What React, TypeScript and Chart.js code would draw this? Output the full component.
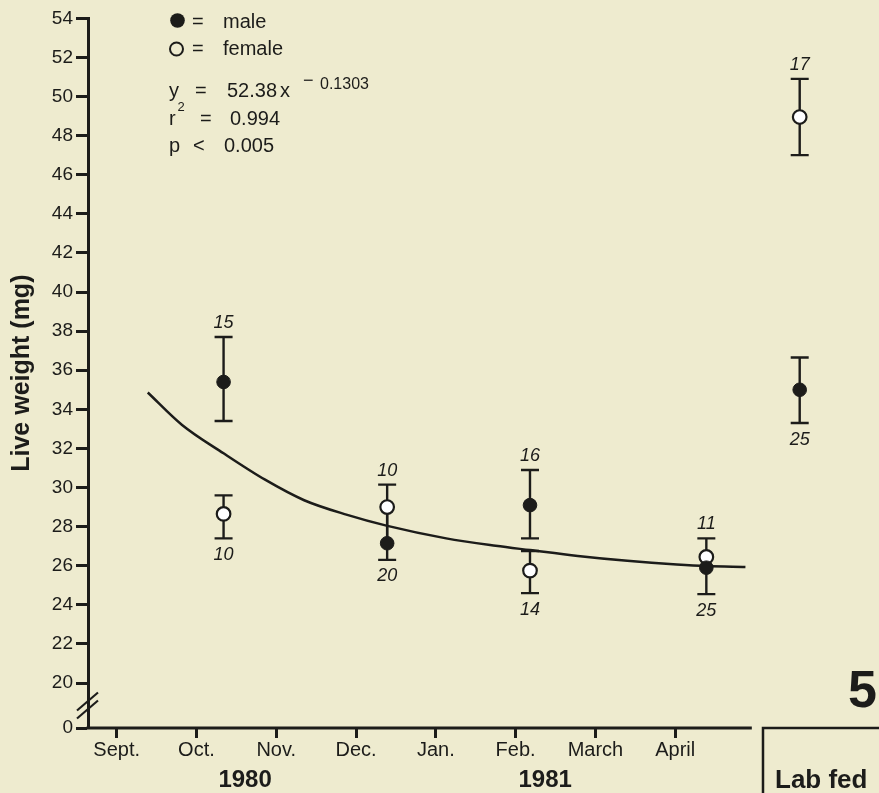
import React, { useEffect, useRef } from "react";
import { Chart, registerables } from "chart.js";

Chart.register(...registerables);

// ---------------- data ----------------
// sampling occasions; x = months since 1 Sept 1980 (Lab fed group placed at the right)
const groups = ["Oct. 1980", "Dec. 1980", "Feb. 1981", "April 1981", "Lab fed"];
const sampleMonth = [1.34, 3.39, 5.18, 7.39, 8.56];

const maleMean = [35.4, 27.15, 29.1, 25.9, 35.0];
const maleHigh = [37.7, 28.8, 30.9, 26.5, 36.65];
const maleLow = [33.4, 26.3, 27.4, 24.55, 33.3];
const maleN = [15, 20, 16, 25, 25];

const femaleMean = [28.65, 29.0, 25.75, 26.45, 48.95];
const femaleHigh = [29.6, 30.15, 26.75, 27.4, 50.9];
const femaleLow = [27.4, 27.3, 24.6, 25.9, 47.0];
const femaleN = [10, 10, 14, 11, 17];

// fitted curve y = 52.38 x^-0.1303
const curveMonth = [0.39, 0.82, 1.34, 1.86, 2.35, 2.89, 3.38, 4.13, 4.75, 5.18, 5.78, 6.4, 7.02, 7.39, 7.88];
const curveWeight = [34.86, 33.2, 31.75, 30.4, 29.35, 28.6, 28.05, 27.4, 27.02, 26.8, 26.5, 26.25, 26.06, 25.98, 25.94];

const monthTicks = [0, 1, 2, 3, 4, 5, 6, 7];
const monthLabels = ["Sept.", "Oct.", "Nov.", "Dec.", "Jan.", "Feb.", "March", "April"];
const yearLabels = ["1980", "1981"];
const yearLabelMonth = [1.61, 5.37];
const yTicks = [20, 22, 24, 26, 28, 30, 32, 34, 36, 38, 40, 42, 44, 46, 48, 50, 52, 54];
const yBreakLabel = "0";

const legendMale = "male";
const legendFemale = "female";
const eqCoef = "52.38";
const eqExp = "0.1303";
const r2Value = "0.994";
const pValue = "0.005";
const labFedLabel = "Lab fed";
const figureNumber = "5";

// ---------------- layout / style ----------------
const W = 879;
const H = 793;
const X_MIN = -0.359;
const X_MAX = 9.441;
const AXIS_END = 7.96;
const LAB_BOX = 8.1;
const Y_MIN = 17.7;
const Y_MAX = 54;
const BREAK_AT = 18.85;
const POINT_R = 6.8;

const INK = "#1c1c1a";
const BG = "#eeebcf";
const FONT = '"Liberation Sans", Arial, Helvetica, sans-serif';

const figurePlugin = {
  id: "figurePlugin",
  beforeDraw(chart: any) {
    const { ctx, width, height } = chart;
    ctx.save();
    ctx.fillStyle = BG;
    ctx.fillRect(0, 0, width, height);
    ctx.restore();
  },
  beforeDatasetsDraw(chart: any) {
    const { ctx } = chart;
    const x = chart.scales.x;
    const y = chart.scales.y;
    ctx.save();
    ctx.strokeStyle = INK;
    ctx.lineWidth = 2.4;
    const hidden = (i: number, py: number) =>
      Math.abs(py - y.getPixelForValue(maleMean[i])) < POINT_R + 1 ||
      Math.abs(py - y.getPixelForValue(femaleMean[i])) < POINT_R + 1;
    const bars = (lo: number[], hi: number[]) => {
      for (let i = 0; i < sampleMonth.length; i++) {
        const px = x.getPixelForValue(sampleMonth[i]);
        const y1 = y.getPixelForValue(lo[i]);
        const y2 = y.getPixelForValue(hi[i]);
        ctx.beginPath();
        ctx.moveTo(px, y1);
        ctx.lineTo(px, y2);
        for (const e of [y1, y2]) {
          if (!hidden(i, e)) {
            ctx.moveTo(px - 9, e);
            ctx.lineTo(px + 9, e);
          }
        }
        ctx.stroke();
      }
    };
    bars(maleLow, maleHigh);
    bars(femaleLow, femaleHigh);
    ctx.restore();
  },
  afterDatasetsDraw(chart: any) {
    const { ctx } = chart;
    const x = chart.scales.x;
    const y = chart.scales.y;
    ctx.save();
    ctx.fillStyle = INK;
    ctx.font = `italic 18px ${FONT}`;
    ctx.textAlign = "center";
    ctx.textBaseline = "alphabetic";
    for (let i = 0; i < sampleMonth.length; i++) {
      const px = x.getPixelForValue(sampleMonth[i]);
      const maleAbove = maleMean[i] > femaleMean[i];
      if (maleAbove) {
        ctx.fillText(String(maleN[i]), px, y.getPixelForValue(maleHigh[i]) - 9);
        ctx.fillText(String(femaleN[i]), px, y.getPixelForValue(femaleLow[i]) + 21.5);
      } else {
        ctx.fillText(String(maleN[i]), px, y.getPixelForValue(maleLow[i]) + 21.5);
        ctx.fillText(String(femaleN[i]), px, y.getPixelForValue(femaleHigh[i]) - 9);
      }
    }
    ctx.restore();
  },
  afterDraw(chart: any) {
    const { ctx, chartArea } = chart;
    const x = chart.scales.x;
    const y = chart.scales.y;
    ctx.save();
    ctx.strokeStyle = INK;
    ctx.fillStyle = INK;

    // x axis line (time axis only)
    ctx.lineWidth = 3;
    ctx.beginPath();
    ctx.moveTo(chartArea.left - 1.5, chartArea.bottom);
    ctx.lineTo(x.getPixelForValue(AXIS_END), chartArea.bottom);
    ctx.stroke();

    // Lab fed box
    const bx = x.getPixelForValue(LAB_BOX);
    ctx.lineWidth = 2.5;
    ctx.beginPath();
    ctx.moveTo(bx, H);
    ctx.lineTo(bx, chartArea.bottom);
    ctx.lineTo(W, chartArea.bottom);
    ctx.stroke();

    // axis break marks
    const by = y.getPixelForValue(BREAK_AT);
    const ax = chartArea.left;
    ctx.lineWidth = 2.2;
    for (const off of [-4, 4]) {
      ctx.beginPath();
      ctx.moveTo(ax - 11, by + off + 9);
      ctx.lineTo(ax + 10, by + off - 9);
      ctx.stroke();
    }

    // legend
    ctx.textAlign = "left";
    ctx.textBaseline = "alphabetic";
    ctx.font = `20px ${FONT}`;
    ctx.beginPath();
    ctx.arc(177.5, 20.5, 7.3, 0, Math.PI * 2);
    ctx.fill();
    ctx.fillText("=", 192, 27.5);
    ctx.fillText(legendMale, 223, 27.5);
    ctx.lineWidth = 2;
    ctx.beginPath();
    ctx.arc(176.5, 49, 6.5, 0, Math.PI * 2);
    ctx.stroke();
    ctx.fillText("=", 192, 55);
    ctx.fillText(legendFemale, 223, 55);

    // equation
    ctx.fillText("y", 169, 96.7);
    ctx.fillText("=", 195, 96.7);
    ctx.fillText(eqCoef, 227, 96.7);
    ctx.fillText("x", 280, 96.7);
    ctx.font = `18px ${FONT}`;
    ctx.fillText("\u2212", 303, 85.5);
    ctx.font = `16px ${FONT}`;
    ctx.fillText(eqExp, 320, 89.3);
    ctx.font = `20px ${FONT}`;
    ctx.fillText("r", 169, 125);
    ctx.font = `13px ${FONT}`;
    ctx.fillText("2", 177.5, 111);
    ctx.font = `20px ${FONT}`;
    ctx.fillText("=", 200, 125);
    ctx.fillText(r2Value, 230, 125);
    ctx.fillText("p", 169, 151.7);
    ctx.fillText("<", 193, 151.7);
    ctx.fillText(pValue, 224, 151.7);

    // years
    ctx.font = `bold 24px ${FONT}`;
    ctx.textAlign = "center";
    yearLabels.forEach((t, i) => {
      ctx.fillText(t, x.getPixelForValue(yearLabelMonth[i]), 786.5);
    });

    // Lab fed label and figure number
    ctx.textAlign = "left";
    ctx.font = `bold 26px ${FONT}`;
    ctx.fillText(labFedLabel, bx + 12, 788);
    ctx.font = `bold 52px ${FONT}`;
    ctx.fillText(figureNumber, 848, 707);

    ctx.restore();
  },
};

export default function App() {
  const ref = useRef<HTMLCanvasElement | null>(null);

  useEffect(() => {
    if (!ref.current) return;
    const chart = new Chart(ref.current, {
      type: "scatter",
      data: {
        datasets: [
          {
            label: "male",
            data: sampleMonth.map((m, i) => ({ x: m, y: maleMean[i] })),
            pointRadius: POINT_R,
            pointBackgroundColor: INK,
            pointBorderColor: INK,
            pointBorderWidth: 1,
            showLine: false,
            order: 0,
          },
          {
            label: "female",
            data: sampleMonth.map((m, i) => ({ x: m, y: femaleMean[i] })),
            pointRadius: POINT_R,
            pointBackgroundColor: "#ffffff",
            pointBorderColor: INK,
            pointBorderWidth: 2.2,
            showLine: false,
            order: 1,
          },
          {
            type: "line",
            label: "fit",
            data: curveMonth.map((m, i) => ({ x: m, y: curveWeight[i] })),
            borderColor: INK,
            borderWidth: 2.5,
            pointRadius: 0,
            cubicInterpolationMode: "monotone",
            fill: false,
            order: 2,
          } as any,
        ],
      },
      options: {
        animation: false,
        responsive: false,
        layout: { padding: { top: 18.3, left: 0, right: 0, bottom: 0 } },
        plugins: {
          legend: { display: false },
          tooltip: { enabled: false },
          title: { display: false },
        },
        scales: {
          x: {
            type: "linear",
            min: X_MIN,
            max: X_MAX,
            afterBuildTicks: (s: any) => {
              s.ticks = monthTicks.map((v) => ({ value: v }));
            },
            afterFit: (s: any) => {
              s.height = 65;
            },
            border: { display: false },
            grid: {
              display: true,
              drawOnChartArea: false,
              drawTicks: true,
              tickLength: 10,
              tickWidth: 3,
              tickColor: INK,
            },
            ticks: {
              callback: (v: any) => {
                const k = monthTicks.indexOf(Number(v));
                return k >= 0 ? monthLabels[k] : "";
              },
              font: { family: FONT, size: 20 },
              color: INK,
              padding: 0,
              maxRotation: 0,
              autoSkip: false,
            },
          },
          y: {
            type: "linear",
            min: Y_MIN,
            max: Y_MAX,
            afterBuildTicks: (s: any) => {
              s.ticks = [Y_MIN, ...yTicks].map((v) => ({ value: v }));
            },
            afterFit: (s: any) => {
              s.width = 88;
            },
            border: { display: true, color: INK, width: 3 },
            grid: {
              display: true,
              drawOnChartArea: false,
              drawTicks: true,
              tickLength: 12,
              tickWidth: 3,
              tickColor: INK,
            },
            ticks: {
              callback: (v: any) => (Number(v) === Y_MIN ? yBreakLabel : String(v)),
              font: { family: FONT, size: 19 },
              color: INK,
              padding: 3,
              autoSkip: false,
            },
            title: {
              display: true,
              text: "Live weight (mg)",
              font: { family: FONT, size: 25, weight: "bold" },
              color: INK,
              padding: { top: 7, bottom: 0 },
            },
          },
        },
      } as any,
      plugins: [figurePlugin],
    });
    return () => chart.destroy();
  }, []);

  return (
    <div style={{ position: "fixed", left: 0, top: 0, width: W, height: H, background: BG }}>
      <canvas ref={ref} width={W} height={H} style={{ display: "block", width: W, height: H }} />
    </div>
  );
}
